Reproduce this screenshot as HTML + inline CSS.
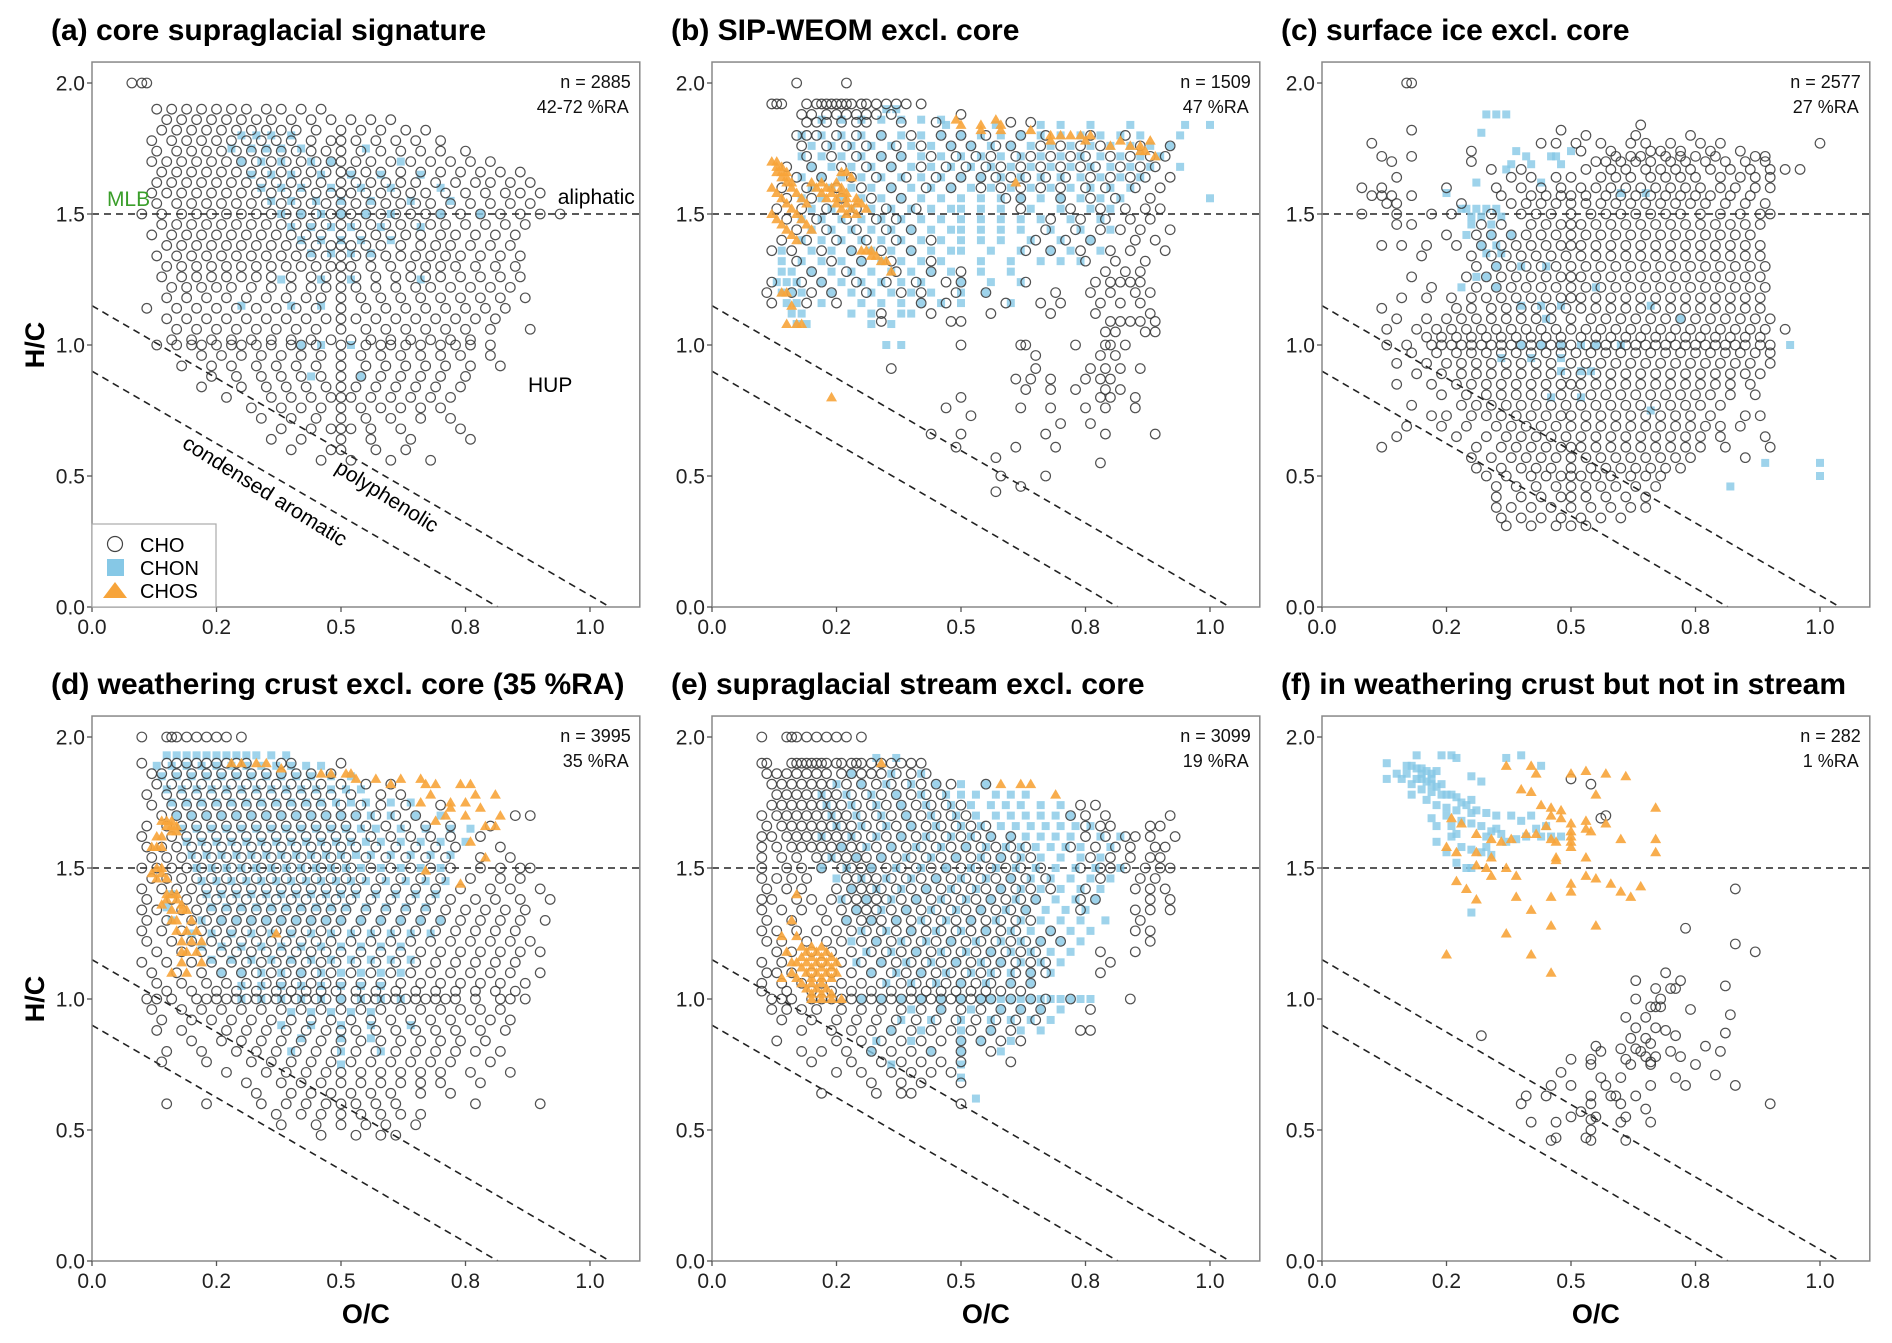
<!DOCTYPE html>
<html><head><meta charset="utf-8">
<style>
html,body{margin:0;padding:0;background:#fff;}
svg{display:block;font-family:"Liberation Sans",Arial,sans-serif;}
</style></head>
<body>
<svg id="fig" width="1892" height="1343" viewBox="0 0 1892 1343" xmlns="http://www.w3.org/2000/svg"></svg>
<script>
// ---------- DATA (values ×100: H/C rows with O/C lists, or flat O/C,H/C pairs) ----------
const panelTitles = ["(a) core supraglacial signature","(b) SIP-WEOM excl. core","(c) surface ice excl. core","(d) weathering crust excl. core (35 %RA)","(e) supraglacial stream excl. core","(f) in weathering crust but not in stream"];
const panelN = ["n = 2885","n = 1509","n = 2577","n = 3995","n = 3099","n = 282"];
const panelRA = ["42-72 %RA","47 %RA","27 %RA","35 %RA","19 %RA","1 %RA"];
const xTickValues = [0,0.25,0.5,0.75,1.0];
const xTickLabels = ["0.0","0.2","0.5","0.8","1.0"];
const yTickValues = [0,0.5,1.0,1.5,2.0];
const yTickLabels = ["0.0","0.5","1.0","1.5","2.0"];

const aCHO = [[200,[8,10,11]],[190,[13,16,19,22,25,28,31,35,38,42,46]],[186,[15,18,21,24,27,30,33,36,40,44,48,52,56,60]],[182,[14,17,20,23,26,29,32,35,38,41,45,50,54,58,63,67]],[178,[12,16,19,22,25,28,31,34,37,40,44,48,50,53,57,61,65,70]],[174,[13,17,20,23,26,29,32,35,38,41,44,47,50,54,58,62,66,70,75]],[170,[12,15,18,21,24,27,30,33,36,39,42,45,48,50,53,56,60,64,68,72,76,80]],[166,[14,17,20,23,26,29,32,35,38,41,44,47,50,52,55,58,62,66,70,74,78,82,86]],[162,[13,16,19,22,25,28,31,34,37,40,43,46,50,53,56,59,62,65,69,73,77,80,84,88]],[158,[12,15,18,21,24,27,30,33,36,39,42,45,48,50,52,55,58,61,64,67,71,75,79,83,86,90]],[154,[13,17,20,23,26,29,32,35,38,41,44,47,50,53,56,59,62,65,68,72,76,80,84,88]],[150,[10,14,18,21,24,27,30,33,36,39,42,45,48,50,52,55,58,61,64,67,70,74,78,82,86,90,94]],[146,[14,17,20,23,26,29,32,35,38,41,44,47,50,53,56,59,62,65,68,71,75,79,83,87]],[142,[12,16,19,22,25,28,31,34,37,40,43,46,50,54,57,60,63,66,70,73,77,81,85]],[138,[15,18,21,24,27,30,33,36,39,42,45,48,50,52,55,58,62,66,69,72,76,80,84]],[134,[13,17,20,23,26,29,32,35,38,41,44,47,50,53,56,59,62,65,68,71,74,78,82,86]],[130,[15,18,21,24,27,30,33,36,39,42,45,48,50,52,56,60,64,67,70,73,77,81,85]],[126,[14,18,21,24,27,30,33,36,40,44,47,50,53,57,61,64,67,70,74,78,82,86]],[122,[16,19,22,25,28,32,36,40,44,47,50,53,57,61,65,68,72,76,80,84]],[118,[15,19,23,27,31,35,39,43,46,50,54,58,62,66,70,74,78,82,87]],[114,[11,17,21,25,29,33,37,41,45,50,55,59,63,67,71,75,79,83]],[110,[15,19,23,27,31,35,39,43,47,50,53,57,61,65,69,73,77,81]],[106,[17,21,25,29,33,37,41,45,50,55,59,63,67,71,75,80,88]],[102,[16,20,24,28,32,36,40,44,48,52,56,60,64,68,72,76]],[100,[13,17,20,22,25,28,30,33,36,40,42,45,50,55,58,60,63,66,70,73,76,80]],[96,[22,26,30,34,38,42,46,50,54,58,62,66,70,74,80]],[92,[18,24,28,33,37,41,45,50,55,59,63,67,71,76,82]],[88,[24,29,34,38,42,46,50,54,58,62,66,70,75]],[84,[22,30,35,39,43,47,50,53,57,61,65,69,74]],[80,[27,36,40,44,48,50,52,56,60,64,68,72]],[76,[32,38,42,46,50,54,58,62,66,70]],[72,[34,40,45,50,55,60,66,72]],[68,[38,44,48,50,52,56,62,74]],[64,[36,42,50,56,64,76]],[60,[40,48,50,57,63]],[56,[46,52,60,68]]];
const aCHON = [[180,[30,33,36,40]],[175,[28,32,35,38,42,55]],[170,[30,34,38,44,48,62]],[165,[32,36,40,46,52,58,66]],[160,[34,38,42,48,54,60,70]],[155,[36,40,45,50,56,64,72]],[150,[38,42,46,50,55,60,70,78]],[145,[40,44,48,52,58,66]],[140,[42,46,50,54,60]],[135,[44,48,52,56]],[125,[38,46,52,66]],[115,[30,40,46]],[100,[42,46,52]],[88,[44,54]]];
const aCHOS = [];

const bCHO = [[200,[17,27]],[192,[12,13,14,19,21,22,23,24,25,26,27,28,30,31,33,35,37,39,42]],[188,[18,20,23,25,27,29,31,33,36,50]],[185,[19,21,23,26,29,31,38,45,60,64]],[180,[17,19,21,25,29,34,40,46,50,55,62,67,76,83]],[176,[18,23,27,31,37,42,48,52,57,60,66,70,74,78,86,92]],[172,[19,24,29,34,38,44,49,53,56,61,64,68,72,75,80,84,88,91]],[168,[15,20,26,31,36,42,47,51,55,58,62,66,70,74,77,82,86,89]],[164,[17,22,28,33,39,45,50,54,57,60,63,67,71,76,80,84,87,92]],[160,[14,19,25,30,36,43,48,54,58,62,66,70,75,79,85,90]],[156,[15,20,26,32,38,59,62,70,76,81,88]],[152,[13,18,23,29,35,41,62,72,78,83,87,90]],[148,[15,21,27,33,37,68,74,79,84,88]],[144,[17,23,29,35,40,67,73,78,82,86,92]],[140,[14,19,25,31,37,44,65,71,76,85,89]],[136,[12,16,22,28,34,40,63,68,74,80,84,91]],[132,[17,24,30,36,44,75,81,87]],[128,[20,27,37,44,50,79,83,86]],[124,[12,18,22,29,35,41,47,50,63,77,80,82,84,86]],[120,[11,16,20,24,31,38,42,49,55,69,76,80,85,88]],[116,[12,19,25,42,47,59,66,70,78,82,86]],[112,[34,44,56,68,77,88]],[109,[34,48,50,80,82,84,86,89]],[105,[79,81,87,89]],[100,[50,62,63,73,79,80,83]],[96,[65,78,81]],[91,[36,65,76,79,82,86]],[87,[61,64,68,75,78,80]],[83,[63,68,73,79,82]],[80,[50,78,80,85]],[76,[47,62,68,75,79,85]],[73,[52]],[70,[70,76]],[66,[44,50,67,79,89]],[61,[49,61,69]],[57,[57]],[55,[78]],[50,[58,67]],[46,[62]],[44,[57]]];
const bCHON = [[190,[35,37]],[186,[22,26,30,34,38,42,46]],[184,[47,57,66,70,76,84,95,100]],[180,[18,22,26,30,34,38,42,46,50,54,58,62,66,70,74,78,82,86,94]],[176,[20,24,28,32,36,40,44,48,52,56,60,64,68,72,76,80,84,88,92]],[172,[18,22,26,30,34,38,42,46,50,54,58,62,66,70,74,78,82,86,90]],[168,[20,24,28,32,36,40,44,48,52,56,60,64,68,72,76,80,84,88,94]],[164,[18,22,26,30,34,38,42,46,50,54,58,62,66,70,74,78,82,86]],[160,[20,24,28,32,36,40,44,48,52,56,60,64,68,72,76,80,84]],[156,[18,22,26,30,34,38,42,46,50,54,58,62,66,70,74,78,82,100]],[152,[20,24,28,32,36,40,44,48,50,54,58,64,70,76,80]],[148,[18,22,26,30,34,38,42,46,50,54,58,62,66,72,78]],[144,[20,24,28,32,36,40,44,48,50,54,58,62,68,74,80]],[140,[18,22,26,30,34,38,42,46,50,54,58,64,70,76]],[136,[14,20,24,28,32,36,40,44,48,50,56,62,68,72,78]],[132,[14,18,22,26,30,34,38,42,46,54,60,66,70,74]],[128,[14,16,20,24,28,32,36,40,44,48,54,60]],[124,[13,15,17,22,26,30,34,38,42,50,56,62]],[120,[14,16,18,24,28,32,36,40,44,50,55]],[116,[15,17,22,30,34,38,42,46,50,60]],[112,[16,18,28,32,38,40]],[108,[17,19,32,36]],[100,[35,38]]];
const bCHOS = [[170,[12,13]],[168,[13,14]],[166,[13,14,15,26,27]],[164,[14,15,28]],[162,[15,16,20,22,25,61]],[160,[12,16,21,23,24,26]],[158,[13,17,22,24,26,27]],[156,[14,18,23,25,27,29]],[154,[15,19,25,27,29,30]],[152,[16,26,28,31]],[150,[12,17,27,29]],[148,[13,18]],[146,[14,19]],[144,[15,20]],[142,[16]],[140,[17]],[136,[30,31,32]],[134,[32,33]],[132,[34,35]],[128,[36]],[120,[14,15]],[115,[16]],[108,[15,17,18]],[186,[49,57]],[184,[50,54,58]],[182,[54,58,64]],[180,[68,70,72,74,76]],[178,[68,75,82,88]],[176,[80,84,86]],[174,[86,87]],[172,[89]],[80,[24]]];

const cCHO = [[200,[17,18]],[184,[64]],[182,[18,48]],[180,[53,63,74]],[177,[10,44,47,51,56,62,65,70,76,80,100]],[174,[30,52,58,66,68,72,78,84]],[172,[12,18,59,62,64,69,72,75,79,87,89]],[170,[14,30,55,57,60,63,66,70,73,77,81,85,89]],[167,[34,40,53,58,61,65,68,71,74,78,82,86,90,93,96]],[164,[15,38,42,47,50,56,59,62,66,69,72,75,80,84,87,90]],[160,[8,12,25,35,40,44,48,52,55,58,61,64,67,70,73,76,80,83,87,90]],[157,[10,12,14,18,36,42,45,48,50,53,57,60,63,66,69,72,75,78,82,86]],[154,[13,15,28,38,41,44,47,50,53,56,59,62,65,68,71,74,77,81,85,89]],[150,[8,15,22,26,34,40,43,46,50,54,57,60,63,66,69,72,76,80,84,88,90]],[146,[15,18,32,36,42,45,48,50,52,55,58,61,64,67,70,73,76,79,82,85,88]],[142,[25,31,34,38,41,44,47,50,53,56,59,62,65,68,71,74,77,80,83,86]],[138,[12,16,21,27,32,36,39,42,45,48,50,52,55,58,61,64,67,70,73,76,79,82,85,88]],[134,[20,30,34,37,40,43,46,49,52,55,58,61,64,67,70,73,76,79,82,85,88]],[130,[31,35,38,41,44,47,50,53,56,59,62,65,68,71,74,77,80,83,86,89]],[126,[18,29,33,36,39,42,45,48,50,52,55,58,61,64,67,70,73,76,79,82,85,88]],[122,[22,31,35,38,41,44,47,50,53,56,59,62,65,68,71,74,77,80,83,86,89]],[118,[16,21,26,30,33,36,39,42,45,48,50,52,55,58,61,64,67,70,73,76,79,82,85,88]],[114,[12,27,30,34,37,40,43,46,49,52,55,58,61,64,67,70,73,76,79,82,85,88]],[110,[15,21,25,28,31,34,37,40,43,46,50,54,57,60,63,66,69,72,75,78,81,84,87,90]],[106,[13,19,23,26,29,32,35,38,41,44,47,50,53,56,59,62,65,68,71,74,77,80,83,86,89,93]],[103,[21,24,27,30,33,36,39,42,45,48,52,55,58,61,64,67,70,73,76,79,82,85,88]],[100,[13,17,22,24,26,28,30,32,34,36,38,40,42,44,46,48,50,53,55,57,59,61,63,65,67,69,71,73,75,77,79,81,83,85,88,90]],[97,[18,23,27,30,33,36,39,42,45,48,51,54,57,60,63,66,69,72,75,78,81,84,87,90]],[93,[15,21,25,28,31,34,37,40,43,46,50,53,56,59,62,65,68,71,74,77,80,83,86,90]],[89,[19,24,28,31,34,37,40,43,46,49,52,55,58,61,64,67,70,73,76,79,82,85,88]],[85,[15,22,27,30,33,36,39,42,45,48,50,52,55,58,61,64,67,70,73,76,79,82,86]],[81,[24,29,33,36,39,42,45,48,51,54,57,60,63,66,69,72,75,78,82,87]],[77,[18,28,31,34,37,40,43,46,49,52,55,58,61,64,67,70,73,76,80]],[73,[22,25,30,33,36,39,42,45,48,50,53,56,59,62,65,68,71,74,78,85,88]],[69,[17,24,29,35,38,41,44,47,50,53,56,59,62,65,68,71,74,77,80,84]],[65,[15,27,33,37,40,43,46,49,52,55,58,61,64,67,70,73,76,80,89]],[61,[12,31,36,39,42,45,48,50,52,55,58,61,64,67,70,73,76,81,90]],[57,[30,34,38,41,44,47,50,53,56,59,62,65,68,71,74,85]],[53,[31,36,40,43,46,50,54,57,60,63,66,69,72]],[50,[33,37,42,45,48,50,52,55,58,62,65,68]],[46,[35,39,43,47,50,53,56,59,63,67]],[42,[35,40,44,48,50,53,57,61,65]],[38,[35,38,42,46,50,54,58,62,65]],[34,[36,40,44,48,52,56,60]],[31,[37,42,47,50,53]]];
const cCHON = [[188,[33,35,37]],[181,[32]],[174,[39,50]],[172,[41,46,47]],[169,[38,42,48]],[167,[37]],[162,[31,44]],[158,[25,60,65]],[152,[28,29,31,33,35]],[149,[30,32,36]],[146,[30,34]],[142,[29,34,38]],[138,[32,35]],[135,[33,36]],[130,[35,40,45]],[126,[31,33]],[122,[28,35,55]],[115,[40,44,48,66]],[110,[45,72]],[100,[40,44,48,52,55,60,94]],[95,[36,42,48]],[90,[48,52,54]],[80,[46,52]],[75,[66]],[55,[89,100]],[50,[100]],[46,[82]]];
const cCHOS = [];

const dCHO = [[200,[10,15,16,17,19,21,23,25,27,30]],[190,[10,15,17,19,21,23,25,27,29,31,38,40,50]],[186,[12,14,17,20,23,26,29,32,35,38,41,44,48]],[182,[13,16,19,22,25,28,31,34,37,40,43,46,50,55,60]],[178,[11,15,18,21,24,27,30,33,36,39,42,45,48,52,58,62]],[174,[12,16,19,22,25,28,31,34,37,40,43,46,50,54,58,63,70]],[170,[14,17,20,23,26,29,32,35,38,41,44,47,50,53,57,61,65,85,88]],[166,[11,15,18,21,24,27,30,33,36,39,42,45,48,51,55,59,63,67,72,80]],[162,[10,16,19,22,25,28,31,34,37,40,43,46,49,52,56,60,64,68,72,78]],[158,[11,14,17,20,23,26,29,32,35,38,41,44,47,50,53,57,61,65,69,73,82]],[154,[12,15,18,21,24,27,30,33,36,39,42,45,48,51,55,59,63,67,71,78,84]],[150,[10,13,16,19,22,25,28,31,34,37,40,43,46,49,52,56,60,64,68,72,78,82,86,88]],[146,[12,15,18,21,24,27,30,33,36,39,42,45,48,51,54,58,62,66,70,76,82,86]],[142,[10,14,17,20,23,26,29,32,35,38,41,44,47,50,53,57,61,65,69,74,80,84,90]],[138,[11,16,19,22,25,28,31,34,37,40,43,46,49,52,56,60,64,68,72,77,81,86,92]],[134,[10,13,18,21,24,27,30,33,36,39,42,45,48,51,55,59,63,67,71,75,79,83,87]],[130,[11,15,20,23,26,29,32,35,38,41,44,47,50,54,58,62,66,70,74,78,82,86,91]],[126,[10,14,18,22,25,28,31,34,37,40,43,46,49,53,57,61,65,69,73,77,81,85]],[122,[11,16,20,24,27,30,33,36,39,42,45,48,52,56,60,64,68,72,76,80,84,88]],[118,[13,18,22,26,29,32,35,38,41,44,47,50,54,58,62,66,70,74,78,82,86,90]],[114,[10,15,20,24,28,31,34,37,40,43,46,49,53,57,61,65,69,73,77,81,85]],[110,[12,17,22,26,30,33,36,39,42,45,48,52,56,60,64,68,72,76,80,84,90]],[106,[13,18,23,27,31,35,38,41,44,47,50,54,58,62,66,70,74,78,82,87]],[103,[15,20,25,29,33,37,40,43,46,49,53,57,61,65,69,73,77,81,85]],[100,[11,13,16,21,23,25,27,29,31,33,35,37,39,41,43,45,47,50,53,55,57,59,61,63,65,67,69,71,73,77,82,84,87]],[96,[12,18,22,26,30,34,38,42,46,50,54,58,62,66,70,74,78,82]],[92,[14,20,24,28,32,36,40,44,48,52,56,60,64,68,72,76,80,84]],[88,[13,18,27,31,35,39,43,47,50,53,57,61,65,69,73,78,83]],[84,[20,26,30,34,38,42,46,50,54,58,62,66,70,74,79]],[80,[15,22,29,33,37,41,45,49,53,57,61,65,69,73,77,82]],[76,[14,23,32,36,40,44,48,52,56,60,64,68,72,80]],[72,[27,35,39,43,47,50,54,58,62,66,70,76,84]],[68,[31,38,42,46,50,54,58,62,66,70,78]],[64,[33,40,44,48,52,56,60,66,72]],[60,[15,23,34,39,43,47,50,53,57,61,77,90]],[56,[37,42,46,50,54,58,62,66]],[52,[38,45,50,55,59,65]],[48,[46,53,58,61]]];
const dCHON = [[193,[15,17,19,21,23,25,27,29,31,33,36,39]],[189,[13,16,19,22,25,28,31,34,37,40,43,46]],[185,[14,17,20,23,26,29,32,35,38,41,44,48,52]],[180,[15,18,21,24,27,30,33,36,39,42,45,48,51,54]],[175,[16,19,22,25,28,31,34,37,40,43,46,49,52,55,60,64]],[170,[17,20,23,26,29,32,35,38,41,44,47,50,53,56,60,65,70]],[165,[18,21,24,27,30,33,36,39,42,45,48,51,54,57,62,67,72,76]],[160,[19,22,25,28,31,34,37,40,43,46,49,52,55,58,62,66,70,75]],[155,[20,23,26,29,32,35,38,41,44,47,50,53,56,60,64,68,72]],[150,[21,24,27,30,33,36,39,42,45,48,51,54,58,62,66,70]],[145,[22,25,28,31,34,37,40,43,46,49,52,55,59,63,67,71]],[140,[16,23,26,29,32,35,38,41,44,47,50,53,57,61,65,69]],[135,[15,24,27,30,33,36,39,42,45,48,51,55,59,63,67]],[130,[16,22,26,29,32,35,38,41,44,47,50,54,58,62,66,70]],[125,[20,24,28,32,36,40,44,48,52,56,60,64,68]],[120,[22,26,30,34,38,42,46,50,54,58,62]],[115,[24,28,32,36,40,44,48,52,56,60,64]],[110,[26,30,34,38,42,46,50,54,58,62]],[105,[30,34,38,42,46,50,54,58]],[100,[30,34,38,42,46,50,54,58,62]],[95,[40,44,48,52,56]],[90,[38,44,50,56,64]],[85,[42,50,56]],[80,[40,50,58]],[75,[50]]];
const dCHOS = [[190,[28,30,33,35]],[188,[38]],[186,[46,48,51,52]],[184,[53,57,62,66]],[182,[60,67,69,74,76]],[178,[68,77,81]],[175,[66,72,75]],[173,[72,78]],[170,[71,75,82]],[168,[14,15,16,69]],[166,[15,16,17,79,81]],[164,[16,17]],[162,[13,14]],[160,[76]],[158,[12,13,14]],[154,[79]],[150,[13,14]],[149,[67]],[148,[12,14]],[146,[13,15]],[144,[74]],[140,[15,16,17]],[138,[15,17]],[136,[14,18]],[134,[16,18,19]],[130,[16,17,20]],[126,[17,19,21]],[125,[37]],[122,[18,20,22]],[118,[18,19,21]],[114,[18,22]],[110,[16,19]]];

const eCHO = [[200,[10,15,16,17,19,21,23,25,27,30]],[190,[10,11,16,17,18,19,20,21,22,23,25,26,28,29,30,32,34,36,38,40,42]],[186,[11,13,15,17,19,21,23,26,28,30,32,34,37,40,43]],[182,[12,14,16,18,20,22,24,27,30,33,36,39,42,45,48,55]],[178,[13,15,17,19,21,23,25,28,31,34,37,40,43,46]],[174,[12,14,16,18,20,22,24,26,29,32,35,38,41,44,47,50,74,77]],[170,[10,13,15,17,19,21,23,25,27,30,33,36,39,42,45,48,51,72,75,79,92]],[166,[11,14,16,18,20,22,24,26,28,31,34,37,40,43,46,49,52,55,75,78,80,88,90]],[162,[10,12,15,17,19,21,23,25,27,29,32,35,38,41,44,47,50,53,56,60,75,79,83,85,88,93]],[158,[10,13,16,18,20,22,24,26,28,30,33,36,39,42,45,48,51,54,57,60,63,72,77,81,84,89,91]],[154,[10,14,17,21,23,25,27,29,31,34,37,40,43,46,49,52,55,58,61,64,76,80,84,88,90]],[150,[10,15,18,22,26,28,30,32,35,38,41,44,47,50,53,56,59,62,66,74,78,80,83,87,90,92]],[146,[10,13,16,19,27,29,31,33,36,39,42,45,48,51,54,57,60,63,67,78,86,89]],[142,[11,15,18,25,28,30,32,34,37,40,43,46,49,52,55,58,61,64,68,75,85,88,91]],[138,[10,12,17,20,24,27,29,31,33,35,38,41,44,47,50,53,56,59,62,65,74,77,88,92]],[134,[10,14,18,22,26,29,31,33,36,39,42,45,48,51,54,57,60,63,74,85,88,92]],[130,[11,16,23,27,30,32,34,37,40,43,46,49,52,55,58,61,64,86]],[126,[10,13,17,21,25,28,31,34,37,40,43,46,49,52,55,58,61,68,85,88]],[122,[11,14,19,23,26,30,33,36,39,42,45,48,51,54,57,60,63,66,70,88]],[118,[13,16,20,24,28,32,35,38,41,44,47,50,53,56,59,62,65,78,85]],[114,[10,14,22,26,30,34,37,40,43,46,49,52,55,58,61,64,67,80]],[110,[11,13,16,20,24,28,32,36,39,42,45,48,51,54,57,61,64,67,78]],[106,[10,14,18,22,26,30,34,38,41,44,47,50,53,56,60,64]],[103,[10,15,20,24,28,32,36,40,43,46,49,52,55,58,62]],[100,[12,14,16,20,22,24,26,28,30,32,34,36,38,40,42,44,46,48,50,52,54,56,60,64,67,72,84]],[96,[12,15,18,21,26,30,34,38,42,46,50,54,58,62,66,76]],[92,[14,20,25,29,33,37,41,45,49,53,57,61,65]],[88,[18,24,28,32,36,40,44,48,52,56,60,74,76]],[84,[13,25,30,34,38,42,46,50,54,58,62]],[80,[18,22,27,32,36,40,44,50,56]],[76,[20,28,34,38,42,46,50,60]],[72,[25,30,36,40,44,48]],[68,[32,38,42,50]],[64,[22,33,38,40]],[60,[50]]];
const eCHON = [[192,[33,37]],[186,[28,36,42]],[182,[25,30,35,40,45,50,55]],[178,[22,27,32,37,42,47,50,53,57,60,63]],[174,[23,28,33,38,43,48,52,56,59,62,66,70]],[170,[24,29,34,39,44,49,53,57,60,63,66,69,72]],[166,[25,30,35,40,45,50,54,58,61,64,67,70,73,76]],[162,[22,28,33,38,43,48,52,56,60,63,66,69,72,78,82]],[158,[26,31,36,41,46,51,55,59,62,65,68,71,74,80]],[154,[24,29,34,39,44,49,54,58,62,66,70,74,78]],[150,[22,27,32,37,42,47,52,57,61,65,69,73,77,82]],[146,[25,30,35,40,45,50,55,60,64,68,72,76,80]],[142,[28,33,38,43,48,53,58,62,66,70,74,78]],[138,[26,31,36,41,46,51,56,61,65,69,73,77]],[134,[29,34,39,44,49,54,59,63,67,71,75]],[130,[27,32,37,42,47,52,57,62,66,70,74,79]],[126,[30,35,40,45,50,55,60,64,68,72,76]],[122,[28,33,38,43,48,53,58,62,66,70,74]],[118,[31,36,41,46,51,56,60,64,68,72]],[114,[29,34,39,44,49,54,58,62,66,70]],[110,[32,37,42,47,52,56,60,64,68]],[106,[35,40,45,50,55,60,64]],[100,[30,34,38,42,46,50,54,56,58,60,62,64,66,68,70,72,74,76]],[96,[40,46,52,58,62,66,70]],[92,[38,44,50,56,60,64,68]],[88,[36,42,50,56,62,66]],[84,[33,40,50,54,60]],[80,[32,44,50,58]],[75,[36,50]],[70,[50]],[62,[53]]];
const eCHOS = [[190,[34]],[182,[58,62,64]],[178,[69]],[140,[17]],[130,[16]],[124,[14,17]],[120,[18,20,22]],[118,[15,19,21,23]],[116,[18,20,22,24]],[114,[16,17,19,21,23,25]],[112,[18,20,22,24]],[110,[16,19,21,23,25]],[108,[14,17,20,22,24]],[106,[18,20,22]],[104,[19,21,23]],[102,[20,22,24]],[100,[20,22,24,26]]];

// panel f: flat O/C,H/C pairs (×100)
const fCHO = [50,184,54,182,56,169,57,170,83,142,73,127,83,121,87,118,32,86,63,107,67,104,69,110,70,104,71,104,72,107,81,105,63,100,66,97,67,97,68,97,68,100,74,96,82,94,61,93,65,93,63,89,67,89,69,88,71,86,81,87,62,85,65,85,66,83,60,81,63,81,64,80,65,78,67,78,66,76,66,75,70,80,72,78,75,75,77,82,80,80,55,82,56,80,54,77,54,75,61,77,62,75,50,77,48,72,46,67,50,67,56,70,57,67,60,70,66,67,71,70,73,67,79,71,83,67,45,63,41,63,40,60,42,53,47,53,50,55,52,57,54,63,54,60,55,55,54,54,54,50,58,63,59,63,60,60,60,53,61,55,63,63,65,58,66,53,46,46,47,47,53,47,54,46,61,46,90,60];
const fCHON = [13,184,13,190,19,193,17,189,18,189,19,188,20,188,21,187,22,186,23,187,24,193,26,193,27,192,30,185,32,183,37,192,40,193,44,189,20,184,21,183,22,182,23,181,24,182,19,184,20,180,22,179,24,178,26,178,27,177,28,175,30,176,31,172,33,171,35,170,38,170,40,168,42,170,45,166,46,162,48,162,21,176,23,174,25,173,27,172,29,174,25,170,22,169,23,166,26,166,28,168,30,167,32,166,34,164,36,163,37,160,39,161,41,162,43,165,23,160,26,162,28,158,30,157,32,156,34,155,25,156,27,152,29,150,30,150,33,158,35,165,18,182,16,184,17,186,15,186,20,186,22,184,25,178,18,178,30,133,33,162,30,171,27,163,44,162];
const fCHOS = [37,189,42,189,43,186,50,186,53,187,57,186,61,185,40,180,42,179,55,178,44,174,46,173,48,172,46,170,48,169,50,167,53,168,57,167,50,164,53,165,54,164,45,166,43,163,41,163,46,161,47,160,50,162,50,160,50,158,60,161,67,173,67,161,67,156,26,169,28,167,31,163,34,161,36,160,38,161,25,158,27,156,31,156,34,154,47,154,47,153,53,154,31,151,37,150,53,147,55,146,27,145,29,142,31,138,39,147,39,139,46,139,50,144,50,141,58,144,60,141,62,139,64,143,42,134,37,125,46,128,55,128,25,117,42,117,46,110,34,147,33,150];

// reference lines (data space)
const refHLine = 1.5;
const refLineUpper = [[0,1.15],[1.04,0]];
const refLineLower = [[0,0.90],[0.815,0]];

// ---------- LAYOUT ----------
const colX0 = [92, 712, 1322];
const rowY0 = [607, 1261];
const XU = 498, YU = 262;
const XMAX = 1.1, YMAX = 2.08;
const svg = document.getElementById('fig');
const NS = 'http://www.w3.org/2000/svg';
function el(tag, attrs, parent){ const e=document.createElementNS(NS,tag); for(const k in attrs) e.setAttribute(k,attrs[k]); (parent||svg).appendChild(e); return e; }
function txt(s, attrs, parent){ const e=el('text',attrs,parent); e.textContent=s; return e; }

function rowsToPts(rows){ const out=[]; rows.forEach(r=>{ r[1].forEach(x=>out.push([x/100, r[0]/100])); }); return out; }
function pairsToPts(arr){ const out=[]; for(let i=0;i<arr.length;i+=2) out.push([arr[i]/100, arr[i+1]/100]); return out; }

const panels = [
  {cho:rowsToPts(aCHO), chon:rowsToPts(aCHON), chos:rowsToPts(aCHOS)},
  {cho:rowsToPts(bCHO), chon:rowsToPts(bCHON), chos:rowsToPts(bCHOS)},
  {cho:rowsToPts(cCHO), chon:rowsToPts(cCHON), chos:rowsToPts(cCHOS)},
  {cho:rowsToPts(dCHO), chon:rowsToPts(dCHON), chos:rowsToPts(dCHOS)},
  {cho:rowsToPts(eCHO), chon:rowsToPts(eCHON), chos:rowsToPts(eCHOS)},
  {cho:pairsToPts(fCHO), chon:pairsToPts(fCHON), chos:pairsToPts(fCHOS)}
];

panels.forEach((P, i) => {
  const c = i % 3, r = Math.floor(i / 3);
  const x0 = colX0[c], y0 = rowY0[r];
  const sx = v => x0 + v * XU;
  const sy = v => y0 - v * YU;
  const g = el('g', {});
  
  
  const clipId = 'clip' + i;
  const cp = el('clipPath', {id: clipId}, g);
  el('rect', {x: sx(0), y: sy(YMAX), width: XMAX * XU, height: YMAX * YU}, cp);

  // title
  const t = txt(panelTitles[i], {x: x0 - 41, y: sy(YMAX) - 22, 'font-size': 30, 'font-weight': 'bold', fill: '#000'}, g);
  
  

  // dashed reference lines
  const lines = el('g', {'clip-path': 'url(#' + clipId + ')', stroke: '#222', 'stroke-width': 1.6, 'stroke-dasharray': '7,5', fill: 'none'}, g);
  
  
  el('line', {x1: sx(0), y1: sy(refHLine), x2: sx(XMAX), y2: sy(refHLine)}, lines);
  el('line', {x1: sx(refLineUpper[0][0]), y1: sy(refLineUpper[0][1]), x2: sx(refLineUpper[1][0]), y2: sy(refLineUpper[1][1])}, lines);
  el('line', {x1: sx(refLineLower[0][0]), y1: sy(refLineLower[0][1]), x2: sx(refLineLower[1][0]), y2: sy(refLineLower[1][1])}, lines);

  // CHON squares
  const gN = el('g', {'clip-path': 'url(#' + clipId + ')', fill: '#86c8e6', 'fill-opacity': 0.8}, g);
  
  
  P.chon.forEach(p => {
    const m = el('rect', {x: sx(p[0]) - 4, y: sy(p[1]) - 4, width: 8, height: 8}, gN);
    
    
  });
  // CHO circles
  const gO = el('g', {'clip-path': 'url(#' + clipId + ')', fill: 'none', stroke: '#333', 'stroke-opacity': 0.85, 'stroke-width': 1.2}, g);
  
  
  P.cho.forEach(p => {
    const m = el('circle', {cx: sx(p[0]), cy: sy(p[1]), r: 4.8}, gO);
    
    
  });
  // CHOS triangles
  const gS = el('g', {'clip-path': 'url(#' + clipId + ')', fill: '#f7a43a', 'fill-opacity': 0.9}, g);
  
  
  P.chos.forEach(p => {
    const X = sx(p[0]), Y = sy(p[1]);
    const m = el('polygon', {points: (X) + ',' + (Y - 5.5) + ' ' + (X - 5.5) + ',' + (Y + 4) + ' ' + (X + 5.5) + ',' + (Y + 4)}, gS);
    
    
  });

  // frame
  const fr = el('rect', {x: sx(0), y: sy(YMAX), width: XMAX * XU, height: YMAX * YU, fill: 'none', stroke: '#888', 'stroke-width': 1.5}, g);
  
  

  // ticks
  const ax = el('g', {}, g);
  
  
  xTickValues.forEach((v, k) => {
    el('line', {x1: sx(v), y1: y0, x2: sx(v), y2: y0 + 5, stroke: '#555', 'stroke-width': 1.3}, ax);
    const tl = txt(xTickLabels[k], {x: sx(v), y: y0 + 27, 'font-size': 21, 'text-anchor': 'middle', fill: '#222'}, ax);
    
    
  });
  const ay = el('g', {}, g);
  
  
  yTickValues.forEach((v, k) => {
    el('line', {x1: x0 - 5, y1: sy(v), x2: x0, y2: sy(v), stroke: '#555', 'stroke-width': 1.3}, ay);
    const tl = txt(yTickLabels[k], {x: x0 - 7, y: sy(v) + 7.5, 'font-size': 21, 'text-anchor': 'end', fill: '#222'}, ay);
    
    
  });

  // n / RA annotation
  const nt = txt(panelN[i], {x: sx(XMAX) - 9, y: sy(YMAX) + 26, 'font-size': 18, 'text-anchor': 'end', fill: '#111'}, g);
  
  
  const rt = txt(panelRA[i], {x: sx(XMAX) - 11, y: sy(YMAX) + 51, 'font-size': 18, 'text-anchor': 'end', fill: '#111'}, g);
  
  

  if (c === 0) {
    const yt = txt('H/C', {x: 0, y: 0, 'font-size': 27, 'font-weight': 'bold', 'text-anchor': 'middle', transform: 'translate(' + (x0 - 48) + ',' + sy(1.0) + ') rotate(-90)'}, g);
    
    
  }
  if (r === 1) {
    const xt = txt('O/C', {x: sx(0.55), y: y0 + 62, 'font-size': 27, 'font-weight': 'bold', 'text-anchor': 'middle'}, g);
    
    
  }

  if (i === 0) {
    const mlb = txt('MLB', {x: sx(0.03), y: sy(1.5) - 8, 'font-size': 21, fill: '#3a9e2a'}, g);
    
    
    const al = txt('aliphatic', {x: sx(1.09), y: sy(1.5) - 10, 'font-size': 21, 'text-anchor': 'end'}, g);
    
    
    const hup = txt('HUP', {x: sx(0.92), y: sy(0.82), 'font-size': 21, 'text-anchor': 'middle'}, g);
    
    
    const pp = txt('polyphenolic', {x: 0, y: 0, 'font-size': 21, 'text-anchor': 'middle', transform: 'translate(' + sx(0.585) + ',' + sy(0.40) + ') rotate(32)'}, g);
    
    
    const ca = txt('condensed aromatic', {x: 0, y: 0, 'font-size': 21, 'text-anchor': 'middle', transform: 'translate(' + sx(0.34) + ',' + sy(0.42) + ') rotate(32)'}, g);
    
    

    // legend
    const lg = el('g', {}, g);
    
    
    el('rect', {x: x0, y: y0 - 83, width: 124, height: 83, fill: '#fff', stroke: '#aaa', 'stroke-width': 1.2}, lg);
    el('circle', {cx: x0 + 23, cy: y0 - 63, r: 7.5, fill: 'none', stroke: '#444', 'stroke-width': 1.2}, lg);
    el('rect', {x: x0 + 15, y: y0 - 48, width: 17, height: 17, fill: '#86c8e6'}, lg);
    el('polygon', {points: (x0 + 23) + ',' + (y0 - 25) + ' ' + (x0 + 11) + ',' + (y0 - 9) + ' ' + (x0 + 35) + ',' + (y0 - 9), fill: '#f7a43a'}, lg);
    const l1 = txt('CHO', {x: x0 + 48, y: y0 - 55, 'font-size': 20}, lg);
    
    
    const l2 = txt('CHON', {x: x0 + 48, y: y0 - 32, 'font-size': 20}, lg);
    
    
    const l3 = txt('CHOS', {x: x0 + 48, y: y0 - 9, 'font-size': 20}, lg);
    
    
  }
});
</script>
</body></html>
